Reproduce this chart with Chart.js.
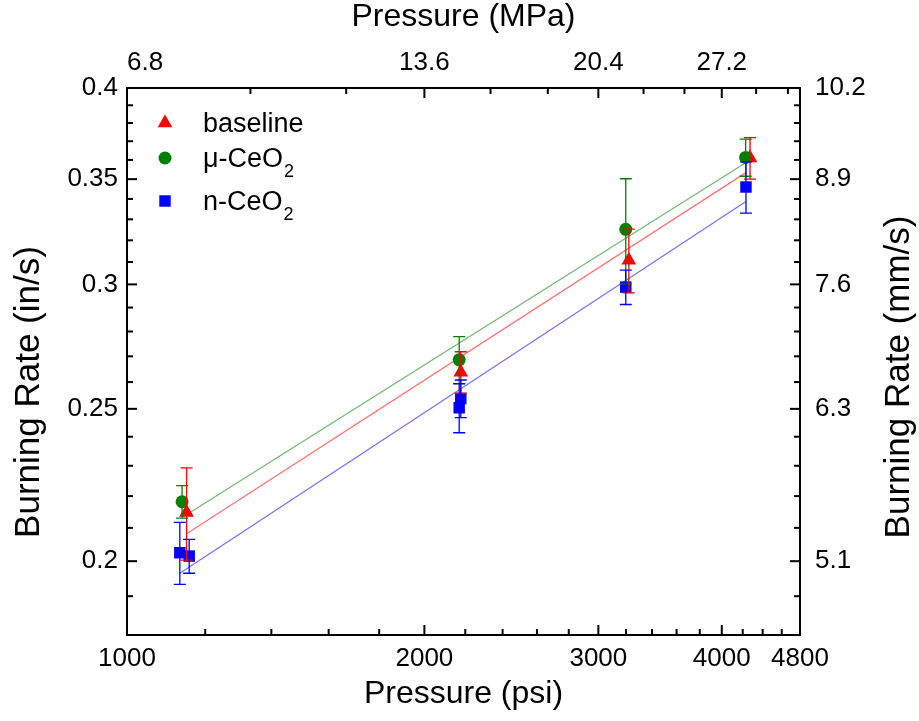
<!DOCTYPE html>
<html>
<head>
<meta charset="utf-8">
<title>Burning rate vs pressure</title>
<script src="https://cdn.jsdelivr.net/npm/chart.js@4.4.1/dist/chart.umd.min.js"></script>
<style>
  body { margin: 0; background: #fff; }
  #wrap { width: 919px; height: 721px; }
</style>
</head>
<body>
<div id="wrap"><canvas id="myChart" width="919" height="721"></canvas></div>
<script>
// pressure in psi, burning rate in in/s, err = half length of the error bar
const baselineP = [1149, 2177, 3221, 4272];
const baselineRate = [0.2148, 0.2638, 0.3108, 0.3610];
const baselineErr = [0.0145, 0.0080, 0.0145, 0.0110];

const microP = [1137, 2169, 3198, 4229];
const microRate = [0.2182, 0.2686, 0.3252, 0.3613];
const microErr = [0.0052, 0.0093, 0.0250, 0.0098];

const nanoP = [1131, 1156, 2177, 2169, 3198, 4232];
const nanoRate = [0.2025, 0.2015, 0.2538, 0.2504, 0.2988, 0.3460];
const nanoErr = [0.0092, 0.0050, 0.0070, 0.0090, 0.0075, 0.0130];

// fitted lines (end points)
const baselineFitP = [1149, 4239];
const baselineFitRate = [0.2082, 0.3536];
const microFitP = [1137, 4229];
const microFitRate = [0.2132, 0.3585];
const nanoFitP = [1131, 4232];
const nanoFitRate = [0.1965, 0.3387];

// axes
const xMajorTicks = [1000, 2000, 3000, 4000, 4800];
const xMinorTicks = [1200, 1400, 1600, 1800, 2200, 2400, 2600, 2800, 3200, 3400, 3600, 3800, 4200, 4400, 4600];
const topMajorTicks = [1000, 2000, 3000, 4000];
const topTickLabels = ['6.8', '13.6', '20.4', '27.2'];
const topMinorTicks = [1333.3, 1666.7, 2333.3, 2666.7, 3333.3, 3666.7, 4333.3, 4666.7];
const yMajorTicks = [0.2, 0.25, 0.3, 0.35, 0.4];
const yTickLabels = ['0.2', '0.25', '0.3', '0.35', '0.4'];
const rightTickLabels = ['5.1', '6.3', '7.6', '8.9', '10.2'];
const yMinorTicks = [0.19, 0.21, 0.22, 0.23, 0.24, 0.26, 0.27, 0.28, 0.29, 0.31, 0.32, 0.33, 0.34, 0.36, 0.37, 0.38, 0.39];
const leftTitle = 'Burning Rate (in/s)';
const rightTitle = 'Burning Rate (mm/s)';

const FONT = '"Liberation Sans", Arial, sans-serif';

function toPoints(xs, ys) {
    return xs.map((x, i) => ({x: x, y: ys[i]}));
}

function makeTicks(majors, minors) {
    const t = majors.map(v => ({value: v, major: true}))
        .concat(minors.map(v => ({value: v, major: false})));
    return t.sort((a, b) => a.value - b.value);
}

function labelFrom(majors, labels) {
    return function(value) {
        const i = majors.indexOf(value);
        return i >= 0 ? labels[i] : '';
    };
}

const series = [
    {label: 'baseline', sub: '', color: '#ff0000', style: 'triangle', radius: 8.5, p: baselineP, rate: baselineRate, err: baselineErr},
    {label: 'μ-CeO', sub: '2', color: '#008000', style: 'circle', radius: 6.5, p: microP, rate: microRate, err: microErr},
    {label: 'n-CeO', sub: '2', color: '#0000ff', style: 'rect', radius: 8.1, p: nanoP, rate: nanoRate, err: nanoErr}
];

const errorBars = {
    id: 'errorBars',
    afterDatasetsDraw(chart) {
        const ctx = chart.ctx;
        const xs = chart.scales.x;
        const ys = chart.scales.y;
        series.forEach(s => {
            ctx.save();
            ctx.strokeStyle = s.color;
            ctx.lineWidth = 1.3;
            s.p.forEach((p, i) => {
                const x = xs.getPixelForValue(p);
                const y1 = ys.getPixelForValue(s.rate[i] + s.err[i]);
                const y2 = ys.getPixelForValue(s.rate[i] - s.err[i]);
                ctx.beginPath();
                ctx.moveTo(x, y1); ctx.lineTo(x, y2);
                ctx.moveTo(x - 6, y1); ctx.lineTo(x + 6, y1);
                ctx.moveTo(x - 6, y2); ctx.lineTo(x + 6, y2);
                ctx.stroke();
            });
            ctx.restore();
        });
    }
};

const frameAndLegend = {
    id: 'frameAndLegend',
    afterDraw(chart) {
        const ctx = chart.ctx;
        const a = chart.chartArea;
        ctx.save();
        ctx.strokeStyle = '#000';
        ctx.lineWidth = 2;
        ctx.strokeRect(a.left, a.top, a.right - a.left, a.bottom - a.top);

        // inward tick marks
        ['x', 'x2', 'y', 'y2'].forEach(id => {
            const sc = chart.scales[id];
            sc.ticks.forEach(t => {
                const px = sc.getPixelForValue(t.value);
                const len = t.major ? 10 : 6;
                ctx.beginPath();
                if (id === 'x') { ctx.moveTo(px, a.bottom); ctx.lineTo(px, a.bottom - len); }
                if (id === 'x2') { ctx.moveTo(px, a.top); ctx.lineTo(px, a.top + len); }
                if (id === 'y') { ctx.moveTo(a.left, px); ctx.lineTo(a.left + len, px); }
                if (id === 'y2') { ctx.moveTo(a.right, px); ctx.lineTo(a.right - len, px); }
                ctx.stroke();
            });
        });

        // vertical axis titles, both read bottom to top
        ctx.fillStyle = '#000';
        ctx.font = '35px ' + FONT;
        ctx.textAlign = 'center';
        ctx.textBaseline = 'middle';
        [[leftTitle, 29, 392], [rightTitle, 899, 377]].forEach(tt => {
            ctx.save();
            ctx.translate(tt[1], tt[2]);
            ctx.rotate(-Math.PI / 2);
            ctx.fillText(tt[0], 0, 0);
            ctx.restore();
        });

        // legend
        ctx.textAlign = 'left';
        ctx.textBaseline = 'alphabetic';
        const rows = [132, 167, 210];
        series.forEach((s, i) => {
            const y = rows[i];
            ctx.fillStyle = s.color;
            Chart.helpers.drawPoint(ctx, {pointStyle: s.style, radius: s.radius, rotation: 0, borderWidth: 0}, 165, y - 9);
            ctx.fillStyle = '#000';
            ctx.font = '27px ' + FONT;
            ctx.fillText(s.label, 203, y);
            if (s.sub) {
                const w = ctx.measureText(s.label).width;
                ctx.font = '18px ' + FONT;
                ctx.fillText(s.sub, 203 + w + 1, y + 10);
            }
        });
        ctx.restore();
    }
};

const scatterSets = [series[1], series[0], series[2]].map(s => ({
    type: 'scatter',
    label: s.label + s.sub,
    data: toPoints(s.p, s.rate),
    pointStyle: s.style,
    pointRadius: s.radius,
    pointHoverRadius: s.radius,
    backgroundColor: s.color,
    borderWidth: 0
}));

function fitSet(xs, ys, color) {
    return {
        type: 'line',
        data: toPoints(xs, ys),
        borderColor: color,
        borderWidth: 1.3,
        pointRadius: 0,
        fill: false
    };
}

const ctx = document.getElementById('myChart').getContext('2d');
const myChart = new Chart(ctx, {
    type: 'scatter',
    data: {
        datasets: scatterSets.concat([
            fitSet(microFitP, microFitRate, 'rgba(0,128,0,0.55)'),
            fitSet(baselineFitP, baselineFitRate, 'rgba(255,0,0,0.55)'),
            fitSet(nanoFitP, nanoFitRate, 'rgba(0,0,255,0.55)')
        ])
    },
    options: {
        responsive: false,
        animation: false,
        devicePixelRatio: 1,
        layout: { padding: 0 },
        plugins: { legend: { display: false }, tooltip: { enabled: false } },
        scales: {
            x: {
                type: 'logarithmic', position: 'bottom', min: 1000, max: 4800,
                grid: { display: false, drawTicks: false }, border: { display: false },
                afterBuildTicks: sc => { sc.ticks = makeTicks(xMajorTicks, xMinorTicks); },
                afterFit: sc => { sc.height = 86; },
                ticks: {
                    autoSkip: false, maxRotation: 0, padding: 8, color: '#000',
                    font: { family: FONT, size: 26 },
                    callback: labelFrom(xMajorTicks, xMajorTicks.map(String))
                },
                title: { display: true, text: 'Pressure (psi)', color: '#000', font: { family: FONT, size: 32 }, padding: { top: 0, bottom: 8 } }
            },
            x2: {
                type: 'logarithmic', position: 'top', min: 1000, max: 4800,
                grid: { display: false, drawTicks: false }, border: { display: false },
                afterBuildTicks: sc => { sc.ticks = makeTicks(topMajorTicks, topMinorTicks); },
                afterFit: sc => { sc.height = 88; },
                ticks: {
                    autoSkip: false, maxRotation: 0, padding: 10, color: '#000', align: 'inner',
                    font: { family: FONT, size: 26 },
                    callback: labelFrom(topMajorTicks, topTickLabels)
                },
                title: { display: true, text: 'Pressure (MPa)', color: '#000', font: { family: FONT, size: 32, lineHeight: 1.1 }, padding: 0 }
            },
            y: {
                type: 'logarithmic', position: 'left', min: 0.1795, max: 0.4,
                grid: { display: false, drawTicks: false }, border: { display: false },
                afterBuildTicks: sc => { sc.ticks = makeTicks(yMajorTicks, yMinorTicks); },
                afterFit: sc => { sc.width = 127; },
                ticks: {
                    autoSkip: false, padding: 9, color: '#000',
                    font: { family: FONT, size: 26 },
                    callback: labelFrom(yMajorTicks, yTickLabels)
                },
                title: { display: false }
            },
            y2: {
                type: 'logarithmic', position: 'right', min: 0.1795, max: 0.4,
                grid: { display: false, drawTicks: false }, border: { display: false },
                afterBuildTicks: sc => { sc.ticks = makeTicks(yMajorTicks, yMinorTicks); },
                afterFit: sc => { sc.width = 119; },
                ticks: {
                    autoSkip: false, padding: 15, color: '#000',
                    font: { family: FONT, size: 26 },
                    callback: labelFrom(yMajorTicks, rightTickLabels)
                },
                title: { display: false }
            }
        }
    },
    plugins: [errorBars, frameAndLegend]
});
</script>
</body>
</html>
